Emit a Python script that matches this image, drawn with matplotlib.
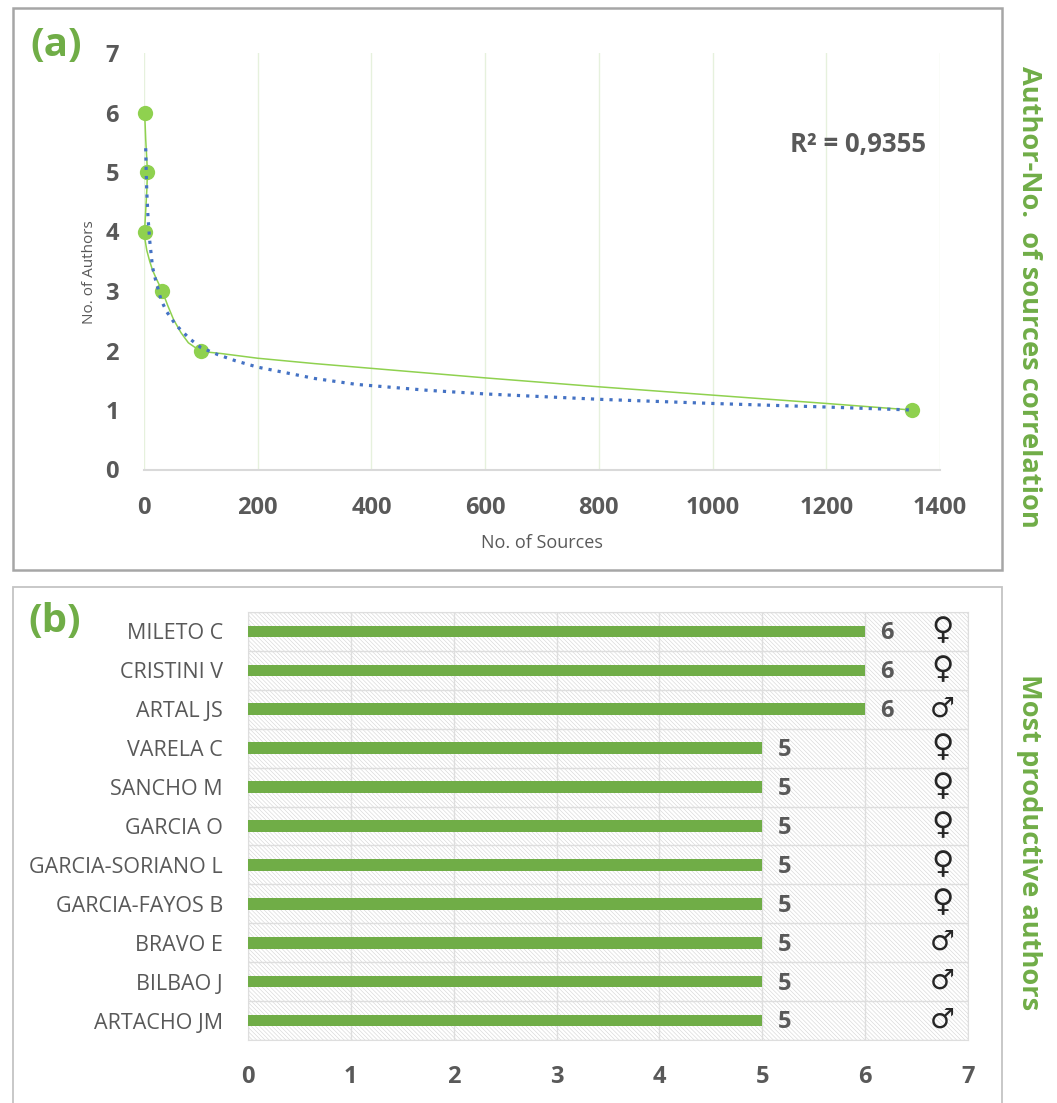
import matplotlib
matplotlib.use('Agg')
import matplotlib.pyplot as plt
from matplotlib.patches import Rectangle

# Datos
sources = [1, 6, 1, 32, 100, 1350]
n_authors = [6, 5, 4, 3, 2, 1]

smooth_x = [1, 2, 3, 5, 6, 5, 3, 1, 2, 5, 10, 15, 22, 32, 42, 52, 65, 78, 90, 100, 115, 135, 200, 300, 400, 600, 800, 1000, 1200, 1350]
smooth_y = [6, 5.8, 5.55, 5.2, 5, 4.7, 4.35, 4, 3.85, 3.68, 3.5, 3.35, 3.2, 3, 2.75, 2.52, 2.3, 2.13, 2.05, 2, 1.97, 1.95, 1.87, 1.78, 1.7, 1.54, 1.39, 1.25, 1.11, 1]

trend_x = [3, 4, 5, 7, 10, 15, 20, 30, 40, 56, 80, 100, 130, 160, 200, 300, 374, 500, 600, 800, 1000, 1200, 1350]
trend_y = [5.4, 4.95, 4.65, 4.25, 3.85, 3.4, 3.2, 2.85, 2.65, 2.43, 2.2, 2.05, 1.93, 1.83, 1.72, 1.53, 1.43, 1.33, 1.27, 1.18, 1.11, 1.05, 1]

authors = ['MILETO C', 'CRISTINI V', 'ARTAL JS', 'VARELA C', 'SANCHO M', 'GARCIA O',
           'GARCIA-SORIANO L', 'GARCIA-FAYOS B', 'BRAVO E', 'BILBAO J', 'ARTACHO JM']
docs = [6, 6, 6, 5, 5, 5, 5, 5, 5, 5, 5]
gender = ['♀', '♀', '♂', '♀', '♀', '♀', '♀', '♀', '♂', '♂', '♂']

W, H = 1057, 1103
GREEN = '#70ad47'
LIGHT = '#8fd14f'
GRAY = '#595959'
plt.rcParams['font.family'] = ['Open Sans', 'DejaVu Sans']
plt.rcParams['hatch.linewidth'] = 0.4

fig = plt.figure(figsize=(W / 100, H / 100), dpi=100)

def box(x0, y0, x1, y1):
    # rectangulo en pixeles (y hacia abajo)
    return [x0 / W, 1 - y1 / H, (x1 - x0) / W, (y1 - y0) / H]

# marcos de los paneles
for b, col, lw in ((box(13, 8, 1002, 570), '#a6a6a6', 1.8), (box(13, 587, 1002, 1110), '#c4c4c4', 1.3)):
    fig.add_artist(Rectangle((b[0], b[1]), b[2], b[3], transform=fig.transFigure,
                             fill=False, ec=col, lw=lw))

# ------------------- (a) -------------------
ax = fig.add_axes(box(144, 53, 940, 469.5))
ax.set_xlim(0, 1400)
ax.set_ylim(0, 7)
ax.grid(True, axis='x', color='#e6f1dd', lw=1)
ax.set_axisbelow(True)
for s in ('top', 'right', 'left'):
    ax.spines[s].set_visible(False)
ax.spines['bottom'].set_color('#d9d9d9')
ax.spines['bottom'].set_linewidth(1.5)
ax.plot(smooth_x, smooth_y, color=LIGHT, lw=1.1, clip_on=False, zorder=3)
ax.plot(sources, n_authors, 'o', color=LIGHT, ms=11, mec='none', clip_on=False, zorder=4)
ax.plot(trend_x, trend_y, color='#4472c4', lw=2.3, ls=(0, (1, 1.9)), clip_on=False, zorder=5)
ax.tick_params(length=0, labelsize=17, labelcolor=GRAY)
ax.tick_params(axis='x', pad=19)
ax.tick_params(axis='y', pad=18)
for t in ax.get_xticklabels() + ax.get_yticklabels():
    t.set_fontweight('bold')
ax.set_xlabel('No. of Sources', fontsize=13, color=GRAY, labelpad=10)
ax.set_ylabel('No. of Authors', fontsize=11, color=GRAY, labelpad=6, y=0.475)
ax.text(1137, 5.46, 'R² = 0,9355', fontsize=18.5, fontweight='bold', color=GRAY, va='center')

# ------------------- (b) -------------------
bx = fig.add_axes(box(248, 612, 968, 1040))
bx.set_xlim(0, 7)
bx.set_ylim(len(authors) - 0.5, -0.5)
bx.set_facecolor('white')
bx.patch.set_hatch('\\' * 8)
bx.patch.set_edgecolor('#d4d4d4')
bx.set_xticks(range(8))
bx.set_yticks(range(len(authors)))
bx.set_yticklabels(authors)
bx.set_yticks([i - 0.5 for i in range(len(authors) + 1)], minor=True)
bx.grid(True, which='major', axis='x', color='#dedede', lw=1)
bx.grid(True, which='minor', axis='y', color='#dedede', lw=1)
bx.set_axisbelow(True)
for s in bx.spines.values():
    s.set_color('#dedede')
bx.tick_params(which='both', length=0)
bx.tick_params(axis='y', labelsize=15.5, labelcolor=GRAY, pad=18)
bx.tick_params(axis='x', labelsize=17, labelcolor=GRAY, pad=18)
for t in bx.get_xticklabels():
    t.set_fontweight('bold')
bx.barh(range(len(authors)), docs, height=0.3, color=GREEN, zorder=3)
for i, v in enumerate(docs):
    bx.text(v + 0.15, i + 0.05, str(v), fontsize=17, fontweight='bold', color=GRAY,
            va='center', ha='left', zorder=4)
    bx.text(6.75, i - 0.02, gender[i], fontsize=22 if gender[i] == '♀' else 20, color='#262626',
            family='DejaVu Sans', va='center', ha='center', zorder=4)

# ------------------- textos de panel -------------------
fig.text(30 / W, 1 - 46 / H, '(a)', fontsize=29, fontweight='bold', color=GREEN, va='center')
fig.text(28 / W, 1 - 622 / H, '(b)', fontsize=29, fontweight='bold', color=GREEN, va='center')
fig.text(1029 / W, 1 - 297 / H, 'Author-No.  of sources correlation', rotation=270, fontsize=19.6,
         fontweight='bold', color=GREEN, va='center', ha='center')
fig.text(1029 / W, 1 - 842 / H, 'Most productive authors', rotation=270, fontsize=19.6,
         fontweight='bold', color=GREEN, va='center', ha='center')

fig.savefig('out.png', dpi=100)
